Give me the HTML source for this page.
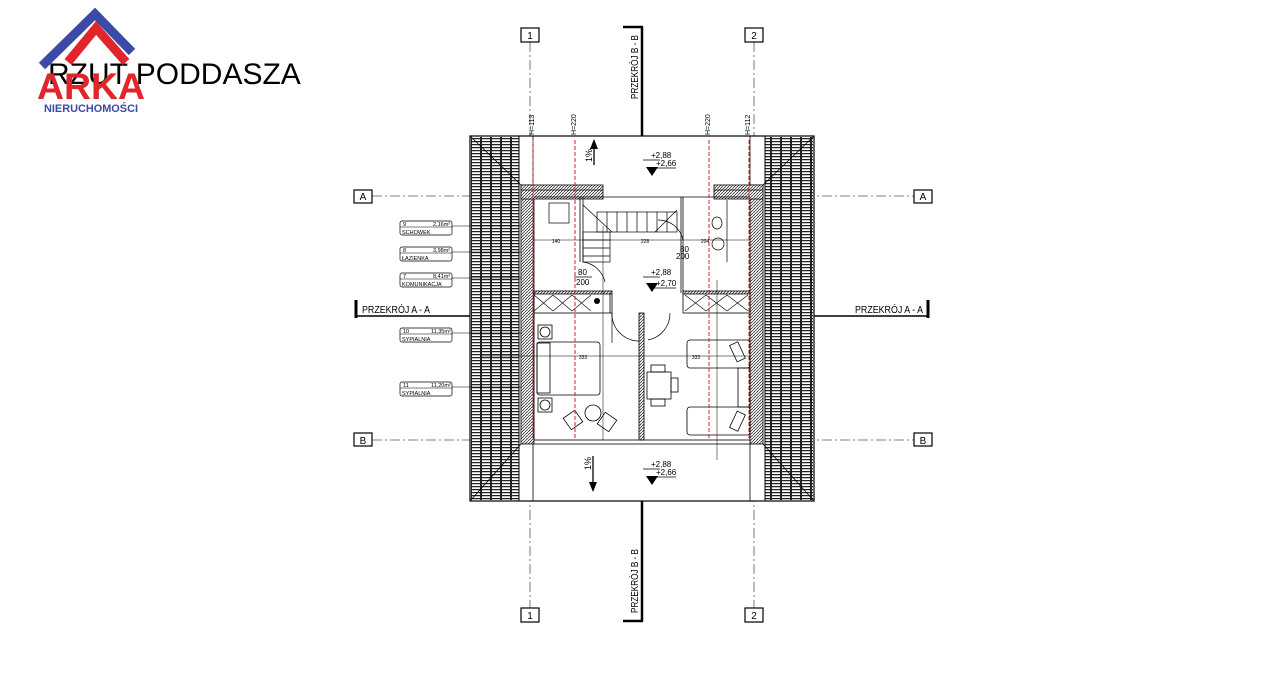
<!DOCTYPE html>
<html><head><meta charset="utf-8"><style>
html,body{margin:0;padding:0;background:#fff;width:1280px;height:689px;overflow:hidden}
svg{display:block}
text{font-family:"Liberation Sans",sans-serif}
</style></head><body>
<svg width="1280" height="689" viewBox="0 0 1280 689" xmlns="http://www.w3.org/2000/svg">
<defs>
<pattern id="tile" width="10" height="3" patternUnits="userSpaceOnUse">
<rect width="10" height="3" fill="#fff"/>
<line x1="0" y1="0.6" x2="10" y2="0.6" stroke="#222" stroke-width="1.3"/>
<line x1="1" y1="0" x2="1" y2="3" stroke="#222" stroke-width="2"/>
</pattern>
<pattern id="hatch" width="3" height="3" patternUnits="userSpaceOnUse">
<rect width="3" height="3" fill="#fff"/>
<line x1="0" y1="3" x2="3" y2="0" stroke="#333" stroke-width="0.8"/>
</pattern>
</defs>

<text x="48" y="84" font-size="30" fill="#000">RZUT PODDASZA</text>
<polyline points="42,66 95,14 132,52" fill="none" stroke="#3a4aa6" stroke-width="9"/>
<polyline points="68,62 96,28 126,62" fill="none" stroke="#e0262b" stroke-width="9"/>
<text x="37" y="99" font-size="37" font-weight="bold" fill="#e0262b" textLength="108" lengthAdjust="spacingAndGlyphs">ARKA</text>
<text x="44" y="112" font-size="11" font-weight="bold" fill="#3a4aa6" textLength="94" lengthAdjust="spacingAndGlyphs">NIERUCHOMOŚCI</text>

<g stroke="#555" stroke-width="0.8" stroke-dasharray="10,3,2,3" fill="none">
<line x1="530" y1="42" x2="530" y2="608"/>
<line x1="754" y1="42" x2="754" y2="608"/>
<line x1="372" y1="196" x2="914" y2="196"/>
<line x1="372" y1="440" x2="914" y2="440"/>
</g>
<g fill="#fff" stroke="#000" stroke-width="1.2">
<rect x="521" y="28" width="18" height="14"/><rect x="745" y="28" width="18" height="14"/>
<rect x="521" y="608" width="18" height="14"/><rect x="745" y="608" width="18" height="14"/>
<rect x="354" y="190" width="18" height="13"/><rect x="914" y="190" width="18" height="13"/>
<rect x="354" y="433" width="18" height="13"/><rect x="914" y="433" width="18" height="13"/>
</g>
<g font-size="10" text-anchor="middle" fill="#000">
<text x="530" y="39">1</text><text x="754" y="39">2</text>
<text x="530" y="619">1</text><text x="754" y="619">2</text>
<text x="363" y="200">A</text><text x="923" y="200">A</text>
<text x="363" y="444">B</text><text x="923" y="444">B</text>
</g>

<g stroke="#000" fill="none">
<line x1="642" y1="27" x2="642" y2="138" stroke-width="2.5"/>
<line x1="623" y1="27" x2="643" y2="27" stroke-width="2.5"/>
<line x1="642" y1="500" x2="642" y2="621" stroke-width="2.5"/>
<line x1="623" y1="621" x2="643" y2="621" stroke-width="2.5"/>
<line x1="356" y1="316" x2="470" y2="316" stroke-width="1.5"/>
<line x1="356" y1="300" x2="356" y2="318" stroke-width="3"/>
<line x1="813" y1="316" x2="928" y2="316" stroke-width="1.5"/>
<line x1="928" y1="300" x2="928" y2="318" stroke-width="3"/>
</g>
<text x="362" y="313" font-size="10" textLength="68" lengthAdjust="spacingAndGlyphs">PRZEKRÓJ  A - A</text>
<text x="855" y="313" font-size="10" textLength="68" lengthAdjust="spacingAndGlyphs">PRZEKRÓJ  A - A</text>
<text transform="translate(638,99) rotate(-90)" font-size="10" textLength="64" lengthAdjust="spacingAndGlyphs">PRZEKRÓJ  B - B</text>
<text transform="translate(638,613) rotate(-90)" font-size="10" textLength="64" lengthAdjust="spacingAndGlyphs">PRZEKRÓJ  B - B</text>

<rect x="470" y="136" width="344" height="365" fill="#fff" stroke="#000" stroke-width="1.2"/>
<rect x="471" y="137" width="48" height="363" fill="url(#tile)"/>
<rect x="765" y="137" width="48" height="363" fill="url(#tile)"/>
<line x1="519" y1="136" x2="519" y2="501" stroke="#000"/>
<line x1="765" y1="136" x2="765" y2="501" stroke="#000"/>
<g stroke="#000" stroke-width="0.8">
<line x1="470" y1="136" x2="521" y2="185"/><line x1="814" y1="136" x2="763" y2="185"/>
<line x1="470" y1="501" x2="521" y2="444"/><line x1="814" y1="501" x2="763" y2="444"/>
<line x1="533" y1="444" x2="533" y2="501"/><line x1="750" y1="444" x2="750" y2="501"/>
<line x1="533" y1="136" x2="533" y2="185"/><line x1="750" y1="136" x2="750" y2="185"/>
</g>

<g stroke="#000" stroke-width="0.8">
<rect x="521" y="185" width="13" height="259" fill="url(#hatch)"/>
<rect x="750" y="185" width="13" height="259" fill="url(#hatch)"/>
<rect x="521" y="185" width="82" height="14" fill="url(#hatch)"/>
<rect x="714" y="185" width="49" height="14" fill="url(#hatch)"/>
<line x1="521" y1="190" x2="603" y2="190"/><line x1="714" y1="190" x2="763" y2="190"/>
<rect x="534" y="440" width="216" height="4" fill="#fff"/>
<rect x="534" y="293" width="78" height="20" fill="#fff"/>
<rect x="683" y="293" width="67" height="20" fill="#fff"/>
<rect x="534" y="291" width="78" height="3" fill="url(#hatch)"/>
<rect x="683" y="291" width="67" height="3" fill="url(#hatch)"/>
<rect x="639" y="313" width="5" height="127" fill="url(#hatch)"/>
<line x1="580" y1="197" x2="580" y2="262"/><line x1="583" y1="197" x2="583" y2="262"/>
<line x1="683" y1="197" x2="683" y2="293"/><line x1="681" y1="197" x2="681" y2="293"/>
<line x1="534" y1="197" x2="750" y2="197"/>
<line x1="610" y1="293" x2="610" y2="313"/>
</g>
<g stroke="#000" stroke-width="0.6">
<path d="M534 295 L553 311 M553 295 L534 311 M553 295 L572 311 M572 295 L553 311 M572 295 L591 311 M591 295 L572 311"/>
<path d="M685 295 L706 311 M706 295 L685 311 M706 295 L727 311 M727 295 L706 311 M727 295 L748 311 M748 295 L727 311"/>
</g>
<circle cx="597" cy="301" r="3" fill="#000"/>

<g stroke="#000" stroke-width="0.7" fill="none">
<rect x="597" y="212" width="80" height="20"/>
<path d="M607 212v20M617 212v20M627 212v20M637 212v20M647 212v20M657 212v20M667 212v20"/>
<rect x="583" y="232" width="27" height="30"/>
<path d="M583 240h27M583 248h27M583 256h27M583 205 L612 232 M655 232 L677 210"/>
<rect x="549" y="203" width="20" height="20"/>
</g>
<g stroke="#000" stroke-width="0.7" fill="none">
<line x1="727" y1="200" x2="727" y2="262"/>
<ellipse cx="717" cy="223" rx="5" ry="6"/>
<circle cx="718" cy="244" r="6"/>
</g>
<g stroke="#000" stroke-width="0.7" fill="none">
<path d="M612 313 A27 27 0 0 0 639 341"/><line x1="612" y1="313" x2="612" y2="343"/>
<path d="M670 313 A27 27 0 0 1 648 340"/>
<path d="M583 262 A26 26 0 0 1 605 282"/>
<path d="M683 240 A25 25 0 0 0 658 220"/>
</g>
<g stroke="#000" stroke-width="0.8" fill="none">
<rect x="537" y="342" width="63" height="53" rx="3"/>
<rect x="537" y="343" width="13" height="50"/>
<rect x="538" y="325" width="14" height="14"/><circle cx="545" cy="332" r="5"/>
<rect x="538" y="398" width="14" height="14"/><circle cx="545" cy="405" r="5"/>
<circle cx="593" cy="413" r="8"/>
<rect x="566" y="413" width="14" height="14" transform="rotate(-35 573 420)"/>
<rect x="600" y="415" width="14" height="14" transform="rotate(35 607 422)"/>
<rect x="647" y="372" width="24" height="27"/>
<rect x="651" y="365" width="14" height="7"/><rect x="651" y="399" width="14" height="7"/>
<rect x="671" y="378" width="7" height="14"/>
<rect x="687" y="340" width="63" height="28" rx="3"/>
<rect x="687" y="407" width="63" height="28" rx="3"/>
<rect x="738" y="368" width="12" height="39"/>
<rect x="733" y="343" width="9" height="18" transform="rotate(-25 737 352)"/>
<rect x="733" y="412" width="9" height="18" transform="rotate(25 737 421)"/>
</g>
<g stroke="#000" stroke-width="0.5">
<line x1="534" y1="240" x2="750" y2="240"/>
<line x1="480" y1="356" x2="750" y2="356"/>
<line x1="603" y1="226" x2="603" y2="440"/>
<line x1="717" y1="280" x2="717" y2="460"/>
<line x1="534" y1="291" x2="534" y2="440"/>
</g>
<g font-size="5" fill="#000" text-anchor="middle">
<text x="556" y="243">140</text><text x="645" y="243">228</text><text x="705" y="243">204</text>
<text x="583" y="359">333</text><text x="696" y="359">333</text>
</g>

<g stroke="#d42020" stroke-width="1" stroke-dasharray="4,2">
<line x1="533" y1="140" x2="533" y2="440"/><line x1="575" y1="140" x2="575" y2="440"/>
<line x1="709" y1="140" x2="709" y2="440"/><line x1="749" y1="140" x2="749" y2="440"/>
</g>
<g font-size="7" fill="#000">
<text transform="translate(534,135) rotate(-90)">H=113</text>
<text transform="translate(576,135) rotate(-90)">H=220</text>
<text transform="translate(710,135) rotate(-90)">H=220</text>
<text transform="translate(750,135) rotate(-90)">H=112</text>
</g>

<g font-size="8" fill="#000">
<text x="651" y="158">+2,88</text><text x="656" y="166">+2,66</text>
<text x="651" y="275">+2,88</text><text x="656" y="286">+2,70</text>
<text x="651" y="467">+2,88</text><text x="656" y="475">+2,66</text>
<text x="578" y="275">80</text><text x="576" y="285">200</text>
<text x="680" y="252">80</text><text x="676" y="259">200</text>
</g>
<g stroke="#000" stroke-width="0.7">
<line x1="643" y1="160" x2="660" y2="160"/><line x1="650" y1="168" x2="676" y2="168"/>
<line x1="643" y1="277" x2="660" y2="277"/><line x1="650" y1="288" x2="676" y2="288"/>
<line x1="643" y1="469" x2="660" y2="469"/><line x1="650" y1="477" x2="676" y2="477"/>
<line x1="574" y1="277" x2="592" y2="277"/>
</g>
<g fill="#000">
<polygon points="646,167 658,167 652,176"/>
<polygon points="646,283 658,283 652,292"/>
<polygon points="646,476 658,476 652,485"/>
<polygon points="590,149 598,149 594,139"/>
<polygon points="589,482 597,482 593,492"/>
</g>
<line x1="594" y1="145" x2="594" y2="165" stroke="#000" stroke-width="1.3"/>
<line x1="593" y1="456" x2="593" y2="485" stroke="#000" stroke-width="1.3"/>
<text transform="translate(592,162) rotate(-90)" font-size="9">1%</text>
<text transform="translate(591,470) rotate(-90)" font-size="9">1%</text>

<g stroke="#000" stroke-width="0.7" fill="#fff">
<rect x="400" y="221" width="52" height="14" rx="2"/><rect x="400" y="247" width="52" height="14" rx="2"/>
<rect x="400" y="273" width="52" height="14" rx="2"/><rect x="400" y="328" width="52" height="14" rx="2"/>
<rect x="400" y="382" width="52" height="14" rx="2"/>
</g>
<g stroke="#000" stroke-width="0.6">
<line x1="400" y1="227" x2="452" y2="227"/><line x1="452" y1="226" x2="521" y2="226"/>
<line x1="400" y1="253" x2="452" y2="253"/><line x1="452" y1="252" x2="521" y2="252"/>
<line x1="400" y1="279" x2="452" y2="279"/><line x1="452" y1="278" x2="521" y2="278"/>
<line x1="400" y1="334" x2="452" y2="334"/><line x1="452" y1="333" x2="521" y2="333"/>
<line x1="400" y1="388" x2="452" y2="388"/><line x1="452" y1="387" x2="521" y2="387"/>
</g>
<g font-size="5.5" fill="#000">
<text x="403" y="226">9</text><text x="433" y="226">2,16m²</text><text x="402" y="234">SCHOWEK</text>
<text x="403" y="252">8</text><text x="433" y="252">3,98m²</text><text x="402" y="260">ŁAZIENKA</text>
<text x="403" y="278">7</text><text x="433" y="278">8,41m²</text><text x="402" y="286">KOMUNIKACJA</text>
<text x="403" y="333">10</text><text x="431" y="333">11,35m²</text><text x="402" y="341">SYPIALNIA</text>
<text x="403" y="387">11</text><text x="431" y="387">11,20m²</text><text x="402" y="395">SYPIALNIA</text>
</g>
</svg>
</body></html>
